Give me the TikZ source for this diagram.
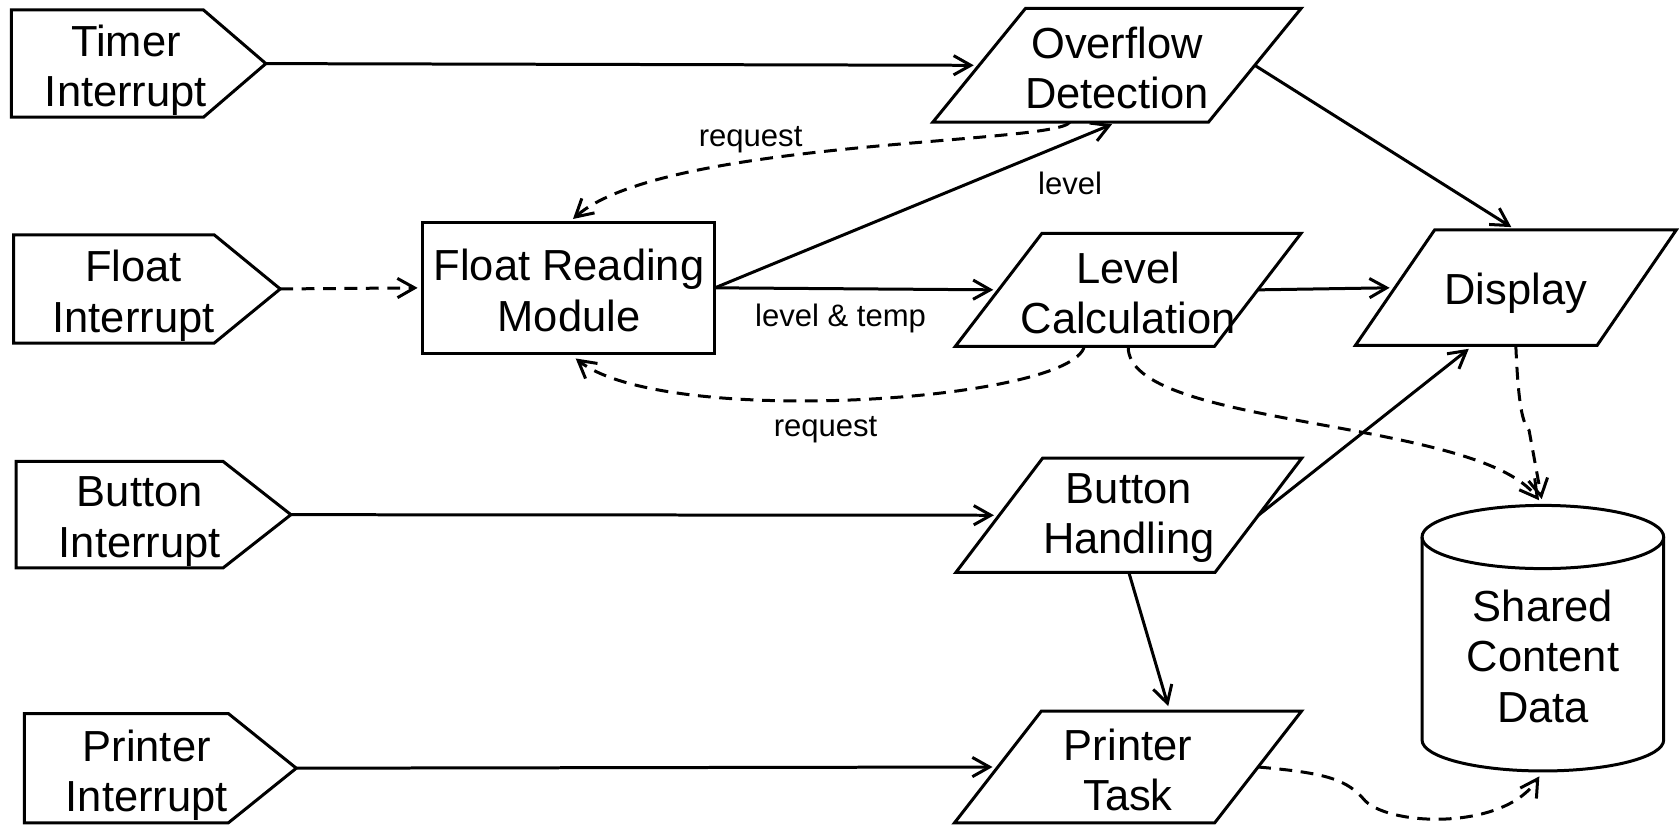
\documentclass[tikz,border=0pt]{standalone}
\usepackage{fontspec}
\setmainfont{Liberation Sans}
\usetikzlibrary{arrows.meta,calc}
\newcommand\bigfont{\fontsize{20.3}{23.5}\selectfont}
\newcommand\smallfont{\fontsize{14.5}{17}\selectfont}
\tikzset{
  shp/.style={draw, line width=1.4pt, line join=miter},
  box/.style={inner sep=0pt, outer sep=0pt, align=center, font=\bigfont},
  arr/.style={line width=1.4pt, -{Straight Barb[length=8pt,width=9pt]}, shorten >=2.5pt},
  dsh/.style={dash pattern=on 6pt off 4pt},
  lbl/.style={inner sep=0pt, anchor=base, font=\smallfont}
}
% interrupt pentagon: name, left, top, bottom, shoulder, tip, text
\newcommand\intrbox[7]{%
  \node[inner sep=0pt, outer sep=0pt, minimum width={(#6-#2)*0.5pt}, minimum height={(#4-#3)*0.5pt}] (#1) at ({(#2+#6)/2},{(#3+#4)/2}) {};
  \draw[shp] (#1.north west) -- (#5,#3) -- (#1.east) -- (#5,#4) -- (#1.south west) -- cycle;
  \node[box, yshift=-3.2pt] (#1-t) at ({#2+0.45*(#6-#2)},{(#3+#4)/2}) {#7};
}
% parallelogram: name, cx, cy, W, H, half slant, text, text shift
\newcommand\parabox[8]{%
  \node[inner sep=0pt, outer sep=0pt, minimum width={#4*0.5pt}, minimum height={#5*0.5pt}] (#1) at (#2,#3) {};
  \draw[shp] ($(#1.north west)+(#6,0)$) -- ($(#1.north east)+(#6,0)$) -- ($(#1.south east)-(#6,0)$) -- ($(#1.south west)-(#6,0)$) -- cycle;
  \node[box, yshift=#8] (#1-t) at (#1.center) {#7};
}
\begin{document}
\begin{tikzpicture}[x=0.5pt,y=-0.5pt]
\useasboundingbox (0,0) rectangle (1568,770);

% interrupts
\intrbox{ti}{10.7}{9.3}{109.5}{190}{248.3}{Timer\\Interrupt}
\intrbox{fi}{12.7}{219.3}{320.4}{200}{261.7}{Float\\Interrupt}
\intrbox{bi}{15}{430.9}{530.4}{208.3}{271.7}{Button\\Interrupt}
\intrbox{pi}{22.7}{666.4}{768.4}{213.3}{276.7}{Printer\\Interrupt}

% float reading module
\node[draw, line width=1.4pt, inner sep=0pt, outer sep=0pt, minimum width={272.7*0.5pt}, minimum height={122*0.5pt}] (frm) at (531.35,268.8) {};
\node[box, yshift=-1.2pt] (frm-t) at (frm.center) {Float Reading\\Module};

% parallelograms
\parabox{ovf}{1043.1}{61}{257.4}{106.3}{43.3}{Overflow\\Detection}{-1.3pt}
\parabox{lvl}{1053.6}{270.7}{242}{105.7}{40.5}{Level\\Calculation}{-1.3pt}
\parabox{dsp}{1415.6}{268.7}{225.7}{107.9}{37}{Display}{-2.6pt}
\parabox{btn}{1054.2}{481.2}{242}{106.7}{40.5}{Button\\Handling}{-1.3pt}
\parabox{ptk}{1053.4}{716.3}{243}{104.2}{40.5}{Printer\\Task}{-1.3pt}

% shared content data cylinder
\node[inner sep=0pt, outer sep=0pt, minimum width={225.7*0.5pt}, minimum height={248*0.5pt}] (sdc) at (1440.85,596) {};
\draw[shp] ($(sdc.north)+(0,29.5)$) ellipse [x radius=112.85, y radius=29.5];
\draw[shp] ($(sdc.north west)+(0,29.5)$) -- ($(sdc.south west)-(0,29)$)
  arc[start angle=180, end angle=0, x radius=112.85, y radius=29] -- ($(sdc.north east)+(0,29.5)$);
\node[box] (sdc-t) at (1441,613) {Shared\\Content\\Data};

% connectors
\draw[arr] (ti.east) -- (ovf.west);
\draw[arr,dsh] (fi.east) -- (frm.west);
\draw[arr] (bi.east) -- (btn.west);
\draw[arr] (pi.east) -- (ptk.west);
\draw[arr] (frm.east) -- (lvl.west);
\draw[arr] (frm.east) -- (ovf.south);
\draw[arr,dsh] ($(ovf.south)+(-44,0)$) .. controls (985,135) and (620,130) .. (frm.north);
\draw[arr,dsh,shorten >=4pt] ($(lvl.south)+(-41,0)$) .. controls (1000,375) and (620,400) .. (frm.south);
\draw[arr] (ovf.east) -- (dsp.north);
\draw[arr] (lvl.east) -- (dsp.west);
\draw[arr] (btn.east) -- ($(dsp.south)+(-40,0)$);
\draw[arr] (btn.south) -- ($(ptk.north)+(39,0)$);
\draw[arr,dsh,shorten >=3pt] (lvl.south) .. controls (1052,400) and (1380,390) .. (sdc.north);
\draw[arr,dsh,shorten >=3pt] (dsp.south) .. controls (1418,380) and (1422,395) .. (1428,402) -- (sdc.north);
\draw[arr,dsh,shorten >=3pt] (ptk.east) .. controls (1240,722) and (1258,728) .. (1275,748)
  .. controls (1300,772) and (1405,775) .. (sdc.south);

% labels
\node[lbl] (rq1) at (701,136.9) {request};
\node[lbl] (lv) at (999.3,182) {level};
\node[lbl] (lt) at (785,304.8) {level \& temp};
\node[lbl] (rq2) at (771,408) {request};
\end{tikzpicture}
\end{document}
